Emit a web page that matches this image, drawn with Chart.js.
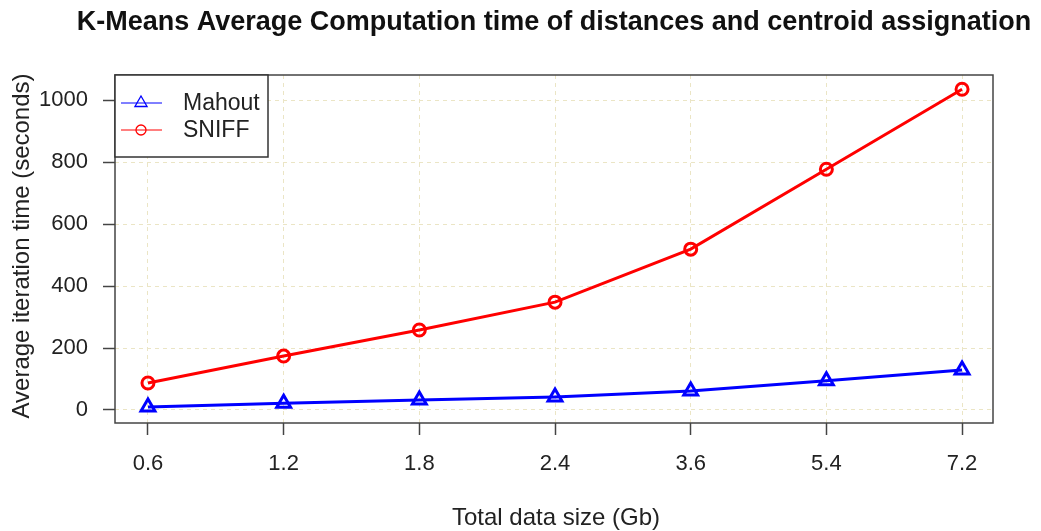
<!DOCTYPE html>
<html>
<head>
<meta charset="utf-8">
<script src="https://cdn.jsdelivr.net/npm/chart.js@4.4.1/dist/chart.umd.min.js"></script>
<style>
  html, body { margin: 0; padding: 0; background: #fff; }
  #wrap { width: 1041px; height: 531px; }
</style>
</head>
<body>
<div id="wrap"><canvas id="myChart" width="1041" height="531"></canvas></div>
<script>
// data
var sizeLabels = ["0.6", "1.2", "1.8", "2.4", "3.6", "5.4", "7.2"];
var mahoutValues = [10, 22, 32, 42, 61, 94, 129];
var sniffValues = [87, 174, 258, 348, 519, 777, 1035];
var yTicks = [0, 200, 400, 600, 800, 1000];

var FONT = "'Liberation Sans', Arial, sans-serif";

function toPoints(vals) {
    return vals.map(function (v, i) { return { x: i, y: v }; });
}

// box, titles and legend like the R plot
var rStyle = {
    id: 'rStyle',
    afterDraw: function (chart) {
        var ctx = chart.ctx;
        var a = chart.chartArea;
        ctx.save();
        ctx.strokeStyle = '#444';
        ctx.lineWidth = 1.5;
        ctx.strokeRect(a.left, a.top, a.right - a.left, a.bottom - a.top);

        ctx.fillStyle = '#111';
        ctx.textAlign = 'center';
        ctx.textBaseline = 'middle';
        ctx.font = 'bold 27px ' + FONT;
        ctx.fillText('K-Means Average Computation time of distances and centroid assignation', 554, 23);

        ctx.fillStyle = '#222';
        ctx.font = '24px ' + FONT;
        ctx.fillText('Total data size (Gb)', 556, 518);
        ctx.save();
        ctx.translate(22, 246);
        ctx.rotate(-Math.PI / 2);
        ctx.fillText('Average iteration time (seconds)', 0, 0);
        ctx.restore();

        // legend
        var lx = a.left, ly = a.top, lw = 153, lh = 82;
        ctx.fillStyle = '#fff';
        ctx.fillRect(lx, ly, lw, lh);
        ctx.strokeStyle = '#333';
        ctx.lineWidth = 1.5;
        ctx.strokeRect(lx, ly, lw, lh);
        var rows = [
            { label: 'Mahout', color: '#0000ff', y: ly + 28, style: 'triangle' },
            { label: 'SNIFF', color: '#ff0000', y: ly + 55, style: 'circle' }
        ];
        rows.forEach(function (r) {
            ctx.strokeStyle = r.color;
            ctx.lineWidth = 1;
            ctx.beginPath();
            ctx.moveTo(lx + 6, r.y);
            ctx.lineTo(lx + 47, r.y);
            ctx.stroke();
            ctx.lineWidth = 1.3;
            ctx.fillStyle = 'rgba(0,0,0,0)';
            Chart.helpers.drawPoint(ctx, {
                pointStyle: r.style,
                radius: r.style === 'triangle' ? 7 : 5,
                rotation: 0,
                borderWidth: 1.3
            }, lx + 26, r.y);
            ctx.fillStyle = '#222';
            ctx.textAlign = 'left';
            ctx.font = '23px ' + FONT;
            ctx.fillText(r.label, lx + 68, r.y + 1);
        });
        ctx.restore();
    }
};

new Chart('myChart', {
    type: 'line',
    data: {
        datasets: [{
            label: 'Mahout',
            data: toPoints(mahoutValues),
            borderColor: '#0000ff',
            backgroundColor: 'rgba(0,0,0,0)',
            borderWidth: 3,
            pointStyle: 'triangle',
            pointRadius: 8,
            pointBorderWidth: 3,
            pointBackgroundColor: 'rgba(0,0,0,0)',
            tension: 0
        }, {
            label: 'SNIFF',
            data: toPoints(sniffValues),
            borderColor: '#ff0000',
            backgroundColor: 'rgba(0,0,0,0)',
            borderWidth: 3,
            pointStyle: 'circle',
            pointRadius: 6,
            pointBorderWidth: 3,
            pointBackgroundColor: 'rgba(0,0,0,0)',
            tension: 0
        }]
    },
    options: {
        responsive: false,
        animation: false,
        layout: { padding: { top: 75, right: 48, left: 0, bottom: 0 } },
        plugins: {
            legend: { display: false },
            title: { display: false },
            tooltip: { enabled: false }
        },
        scales: {
            x: {
                type: 'linear',
                min: -0.243,
                max: 6.228,
                afterFit: function (s) { s.height = 108; },
                afterBuildTicks: function (s) {
                    s.ticks = sizeLabels.map(function (l, i) { return { value: i }; });
                },
                ticks: {
                    callback: function (v) { return sizeLabels[v]; },
                    color: '#222',
                    font: { family: FONT, size: 22 },
                    padding: 16,
                    maxRotation: 0,
                    autoSkip: false
                },
                grid: {
                    color: '#ebe5c5',
                    lineWidth: 1,
                    tickColor: '#444',
                    tickLength: 12,
                    tickWidth: 1.5,
                    tickBorderDash: []
                },
                border: { display: false, dash: [4, 4] }
            },
            y: {
                min: -42,
                max: 1081,
                afterFit: function (s) { s.width = 115; },
                afterBuildTicks: function (s) {
                    s.ticks = yTicks.map(function (v) { return { value: v }; });
                },
                ticks: {
                    callback: function (v) { return String(v); },
                    color: '#222',
                    font: { family: FONT, size: 22 },
                    padding: 15
                },
                grid: {
                    color: '#ebe5c5',
                    lineWidth: 1,
                    tickColor: '#444',
                    tickLength: 12,
                    tickWidth: 1.5,
                    tickBorderDash: []
                },
                border: { display: false, dash: [4, 4] }
            }
        }
    },
    plugins: [rStyle]
});
</script>
</body>
</html>
